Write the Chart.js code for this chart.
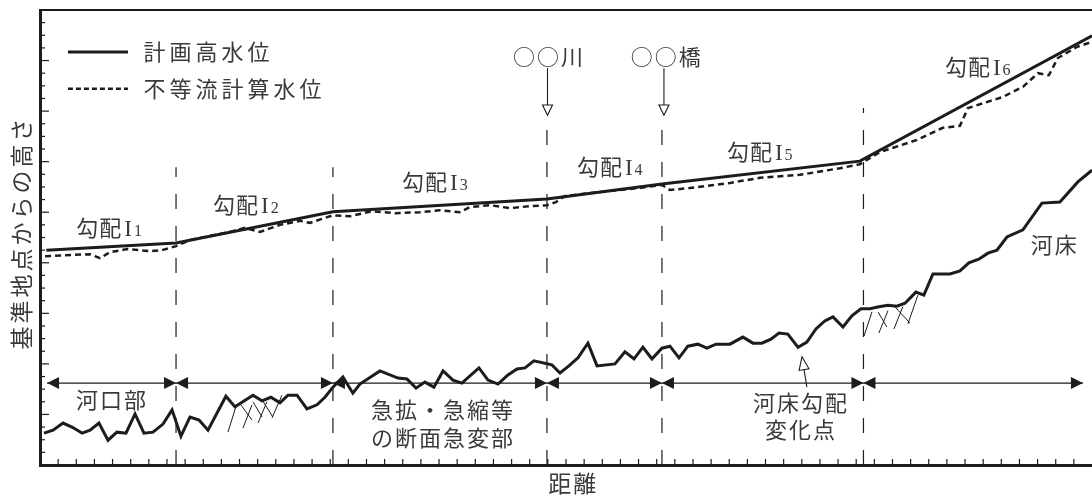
<!DOCTYPE html>
<html lang="ja">
<head>
<meta charset="utf-8">
<title>河床縦断と水位</title>
<script src="https://cdn.jsdelivr.net/npm/chart.js@4.4.1/dist/chart.umd.min.js"></script>
<style>
  html, body { margin: 0; padding: 0; background: #fff; }
  #wrap { width: 1092px; height: 495px; }
</style>
</head>
<body>
<div id="wrap"><canvas id="profile" width="1092" height="495"></canvas></div>
<script>
// 計画高水位 (折れ線)
const planX = [0.35, 7.5, 16.15, 27.95, 34.29, 45.2, 58.0];
const planY = [4.25, 4.39, 5.01, 5.26, 5.56, 6.01, 8.49];

// 不等流計算水位
const calcX = [0.28, 2.76, 3.31, 3.86, 4.80, 6.06, 6.73, 7.50, 8.27, 10.47, 11.30, 12.13, 13.23, 14.33, 14.88,
  16.15, 17.09, 18.30, 19.57, 20.95, 22.05, 23.15, 23.70, 24.81, 25.91, 27.01, 27.95, 28.45, 28.94, 30.87,
  33.08, 34.29, 34.73, 35.83, 38.04, 39.69, 41.90, 44.10, 45.20, 46.31, 48.35, 49.78, 50.72, 51.16, 53.09,
  54.19, 55.02, 55.62, 56.12, 57.17, 58.0];
const calcY = [4.13, 4.17, 4.09, 4.21, 4.27, 4.23, 4.25, 4.33, 4.45, 4.61, 4.69, 4.61, 4.75, 4.83, 4.79,
  4.94, 4.92, 5.02, 4.98, 5.00, 5.04, 5.00, 5.10, 5.14, 5.08, 5.12, 5.14, 5.20, 5.32, 5.40,
  5.48, 5.54, 5.44, 5.48, 5.58, 5.68, 5.74, 5.87, 5.95, 6.19, 6.43, 6.67, 6.71, 7.06, 7.28,
  7.48, 7.75, 7.71, 8.05, 8.27, 8.37];

// 河床
const bedX = [0.22, 0.72, 1.27, 1.76, 2.32, 2.76, 3.25, 3.75, 4.24, 4.74, 5.24, 5.73, 6.23, 6.78, 7.28, 7.77,
  8.27, 8.77, 9.26, 10.25, 10.75, 11.74, 12.24, 12.73, 13.23, 13.67, 14.17, 14.72, 15.27, 15.71, 16.15, 16.70,
  17.25, 17.64, 18.74, 19.74, 20.23, 20.73, 21.22, 21.72, 22.22, 22.77, 23.26, 24.20, 24.70, 25.25, 25.80,
  26.30, 26.74, 27.23, 28.22, 28.67, 29.16, 29.66, 30.21, 30.71, 31.70, 32.25, 32.75, 33.24, 33.74, 34.29,
  34.73, 35.23, 35.72, 36.27, 36.77, 37.27, 38.04, 38.75, 39.31, 39.80, 40.30, 40.74, 41.23, 41.79, 42.28,
  42.78, 43.27, 43.72, 44.27, 44.76, 45.26, 45.76, 46.25, 46.75, 47.24, 47.69, 48.29, 48.73, 49.23, 50.17,
  50.72, 51.21, 51.76, 52.26, 52.76, 53.31, 54.19, 55.24, 56.23, 57.22, 58.0];
const bedY = [0.63, 0.69, 0.83, 0.75, 0.63, 0.69, 0.83, 0.49, 0.65, 0.63, 1.01, 0.63, 0.65, 0.81, 1.09, 0.57,
  0.95, 0.89, 0.69, 1.36, 1.15, 1.38, 1.27, 1.34, 1.23, 1.38, 1.38, 1.11, 1.19, 1.34, 1.54, 1.74,
  1.42, 1.60, 1.86, 1.72, 1.70, 1.52, 1.64, 1.54, 1.86, 1.68, 1.62, 1.92, 1.68, 1.60, 1.78,
  1.90, 1.92, 2.06, 1.98, 1.82, 1.96, 2.12, 2.41, 1.96, 2.00, 2.24, 2.10, 2.33, 2.10, 2.31,
  2.35, 2.12, 2.35, 2.39, 2.31, 2.39, 2.39, 2.53, 2.41, 2.41, 2.49, 2.61, 2.59, 2.33, 2.43,
  2.69, 2.85, 2.93, 2.73, 2.95, 3.09, 3.09, 3.13, 3.16, 3.14, 3.20, 3.42, 3.36, 3.78, 3.78,
  3.84, 4.00, 4.07, 4.19, 4.25, 4.51, 4.65, 5.18, 5.20, 5.60, 5.83];

// 洗掘・堆積のハッチ (始点x, 始点y, 終点x, 終点y)
const hatchSegs = [
  [10.36, 0.65, 10.80, 1.15], [11.19, 0.73, 11.69, 1.19], [12.02, 0.83, 12.51, 1.25], [12.79, 0.93, 13.34, 1.38],
  [11.03, 1.21, 11.69, 0.89], [11.74, 1.25, 12.24, 0.95], [12.24, 1.29, 12.84, 0.95],
  [45.43, 2.55, 45.87, 3.03], [46.25, 2.61, 46.75, 3.05], [47.08, 2.69, 47.57, 3.13], [47.85, 2.79, 48.40, 3.36],
  [46.20, 3.03, 46.69, 2.73], [47.13, 3.13, 47.96, 2.81]
];

// 区間境界 (破線) と寸法線
const dividerX = [7.5, 16.15, 27.95, 34.29, 45.4];
const dividerTop = [5.89, 5.89, 6.63, 6.72, 7.06];
const sectionBounds = [0.39, 7.5, 16.15, 27.95, 34.29, 45.4, 57.5];
const dimLevel = 1.62;

// 上部の地点矢印 (○○川, ○○橋)
const siteNames = ['○○川', '○○橋'];
const siteX = [27.98, 34.4];
const siteTextX = [28.06, 34.56];
const siteArrowTop = 7.85, siteArrowBase = 7.12, siteArrowTip = 6.92, siteTextY = 8.07;

// 勾配ラベル
const slopeNums = ['1', '2', '3', '4', '5', '6'];
const slopeX = [2.0, 9.54, 19.96, 29.6, 37.87, 49.89];
const slopeY = [4.69, 5.14, 5.60, 5.89, 6.19, 7.87];

// 区間説明
const noteLines = [['河口部'], ['急拡・急縮等', 'の断面急変部'], ['河床勾配', '変化点']];
const noteX = [3.97, 22.22, 41.95];
const noteY = [[1.29], [1.09, 0.55], [1.23, 0.69]];
const kinkTip = [42.01, 2.14], kinkTail = [42.28, 1.54];

const bedLabel = '河床', bedLabelX = 55.95, bedLabelY = 4.35;
const legendNames = ['計画高水位', '不等流計算水位'];
const legendY = [8.17, 7.44];
const legendLine = [1.54, 4.85], legendTextX = 5.7;
const xTitle = '距離', xTitleX = 29.4;
const yTitle = '基準地点からの高さ', yTitleY = 4.6;

const INK = '#1c1c1c';
const TEXT = '#3a3a3a';
const JP = '"Noto Sans CJK JP", "Noto Sans", sans-serif';
const SERIF = '"Liberation Serif", "DejaVu Serif", serif';

const pts = (xs, ys) => xs.map((v, i) => ({ x: v, y: ys[i] }));
const gapped = segs => segs.flatMap(s => [{ x: s[0], y: s[1] }, { x: s[2], y: s[3] }, { x: s[2], y: null }]);

const overlay = {
  id: 'overlay',
  afterDatasetsDraw(chart) {
    const { ctx, scales: { x, y } } = chart;
    const px = v => x.getPixelForValue(v);
    const py = v => y.getPixelForValue(v);
    const seg = (a, b, c, d) => { ctx.beginPath(); ctx.moveTo(a, b); ctx.lineTo(c, d); ctx.stroke(); };
    ctx.save();

    // 内向きの目盛
    ctx.strokeStyle = INK;
    ctx.lineWidth = 1.2;
    x.ticks.forEach(t => {
      if (t.value <= x.min || t.value >= x.max) return;
      const X = px(t.value);
      seg(X, y.bottom, X, y.bottom - 6);
    });
    y.ticks.forEach(t => {
      if (t.value <= y.min || t.value >= y.max) return;
      const Y = py(t.value);
      seg(x.left, Y, x.left + (Number.isInteger(t.value) ? 9 : 5), Y);
    });

    // 寸法線の矢じり
    ctx.fillStyle = INK;
    const head = (X, Y, dir) => {
      ctx.beginPath();
      ctx.moveTo(X, Y);
      ctx.lineTo(X - dir * 12, Y - 6);
      ctx.lineTo(X - dir * 12, Y + 6);
      ctx.closePath();
      ctx.fill();
    };
    for (let i = 0; i < sectionBounds.length - 1; i++) {
      head(px(sectionBounds[i]), py(dimLevel), -1);
      head(px(sectionBounds[i + 1]), py(dimLevel), 1);
    }

    // 白抜き矢じり
    const hollow = (tx, ty, fx, fy, len, half) => {
      const dx = tx - fx, dy = ty - fy, L = Math.hypot(dx, dy);
      const ux = dx / L, uy = dy / L;
      const bx = tx - ux * len, by = ty - uy * len;
      ctx.beginPath();
      ctx.moveTo(tx, ty);
      ctx.lineTo(bx - uy * half, by + ux * half);
      ctx.lineTo(bx + uy * half, by - ux * half);
      ctx.closePath();
      ctx.fillStyle = '#fff';
      ctx.fill();
      ctx.lineWidth = 1.1;
      ctx.stroke();
    };
    siteX.forEach(sx => {
      ctx.lineWidth = 1.1;
      seg(px(sx), py(siteArrowTop), px(sx), py(siteArrowBase));
      hollow(px(sx), py(siteArrowTip), px(sx), py(siteArrowTop), py(siteArrowTip) - py(siteArrowBase), 5);
    });
    ctx.lineWidth = 1.1;
    const tipX = px(kinkTip[0]), tipY = py(kinkTip[1]);
    const tailX = px(kinkTail[0]), tailY = py(kinkTail[1]);
    seg(tailX, tailY, tipX + (tailX - tipX) * 0.4, tipY + (tailY - tipY) * 0.4);
    hollow(tipX, tipY, tailX, tailY, 13, 5);

    // 凡例
    ctx.strokeStyle = INK;
    ctx.lineWidth = 3;
    seg(px(legendLine[0]), py(legendY[0]), px(legendLine[1]), py(legendY[0]));
    ctx.setLineDash([5, 3]);
    ctx.lineWidth = 2.5;
    seg(px(legendLine[0]), py(legendY[1]), px(legendLine[1]), py(legendY[1]));
    ctx.setLineDash([]);

    // 文字
    ctx.fillStyle = TEXT;
    ctx.textBaseline = 'middle';
    ctx.font = '22px ' + JP;
    ctx.letterSpacing = '4px';
    ctx.textAlign = 'left';
    legendNames.forEach((s, i) => ctx.fillText(s, px(legendTextX), py(legendY[i])));

    ctx.letterSpacing = '2px';
    ctx.textAlign = 'center';
    siteNames.forEach((s, i) => ctx.fillText(s, px(siteTextX[i]), py(siteTextY)));
    noteLines.forEach((lines, i) => lines.forEach((s, j) => ctx.fillText(s, px(noteX[i]), py(noteY[i][j]))));
    ctx.fillText(bedLabel, px(bedLabelX), py(bedLabelY));

    // 勾配I1..I6
    ctx.textAlign = 'left';
    ctx.textBaseline = 'alphabetic';
    slopeNums.forEach((n, i) => {
      let X = px(slopeX[i]);
      const base = py(slopeY[i]) + 8;
      ctx.font = '22px ' + JP;
      ctx.letterSpacing = '1px';
      ctx.fillText('勾配', X, base);
      X += ctx.measureText('勾配').width + 2;
      ctx.letterSpacing = '0px';
      ctx.font = '23px ' + SERIF;
      ctx.fillText('I', X, base);
      X += ctx.measureText('I').width + 2;
      ctx.font = '16px ' + SERIF;
      ctx.fillText(n, X, base);
    });

    // 軸タイトル
    ctx.textBaseline = 'middle';
    ctx.textAlign = 'center';
    ctx.font = '23px ' + JP;
    ctx.letterSpacing = '2px';
    ctx.fillText(xTitle, px(xTitleX), y.bottom + 18);
    ctx.translate(21, py(yTitleY));
    ctx.rotate(-Math.PI / 2);
    ctx.letterSpacing = '3px';
    ctx.fillText(yTitle, 0, 0);
    ctx.restore();
  }
};

const lineSet = (data, width, dash, order) => ({
  data, borderColor: INK, borderWidth: width, borderDash: dash, pointRadius: 0,
  tension: 0, spanGaps: false, fill: false, order, borderJoinStyle: 'miter'
});

new Chart(document.getElementById('profile'), {
  type: 'line',
  data: {
    datasets: [
      lineSet(pts(planX, planY), 3, [], 1),
      lineSet(pts(calcX, calcY), 2.5, [6, 4], 2),
      lineSet(pts(bedX, bedY), 3, [], 3),
      lineSet(gapped(hatchSegs), 1, [], 4),
      lineSet(gapped(dividerX.map((v, i) => [v, 0, v, dividerTop[i]])), 1.2, [15, 17], 5),
      lineSet(pts(sectionBounds, sectionBounds.map(() => dimLevel)), 1.2, [], 6)
    ]
  },
  options: {
    responsive: false,
    devicePixelRatio: 1,
    animation: false,
    layout: { padding: { left: 40, top: 10, right: 0, bottom: 30 } },
    plugins: { legend: { display: false }, tooltip: { enabled: false } },
    scales: {
      x: {
        type: 'linear', min: 0, max: 58,
        ticks: { display: false, stepSize: 1 },
        grid: { drawOnChartArea: false, drawTicks: false },
        border: { display: true, color: INK, width: 3 }
      },
      x2: {
        type: 'linear', position: 'top', min: 0, max: 58,
        ticks: { display: false },
        grid: { drawOnChartArea: false, drawTicks: false },
        border: { display: true, color: INK, width: 2 }
      },
      y: {
        type: 'linear', min: 0, max: 9,
        ticks: { display: false, stepSize: 0.25 },
        grid: { drawOnChartArea: false, drawTicks: false },
        border: { display: true, color: INK, width: 3 }
      }
    }
  },
  plugins: [overlay]
});
</script>
</body>
</html>
